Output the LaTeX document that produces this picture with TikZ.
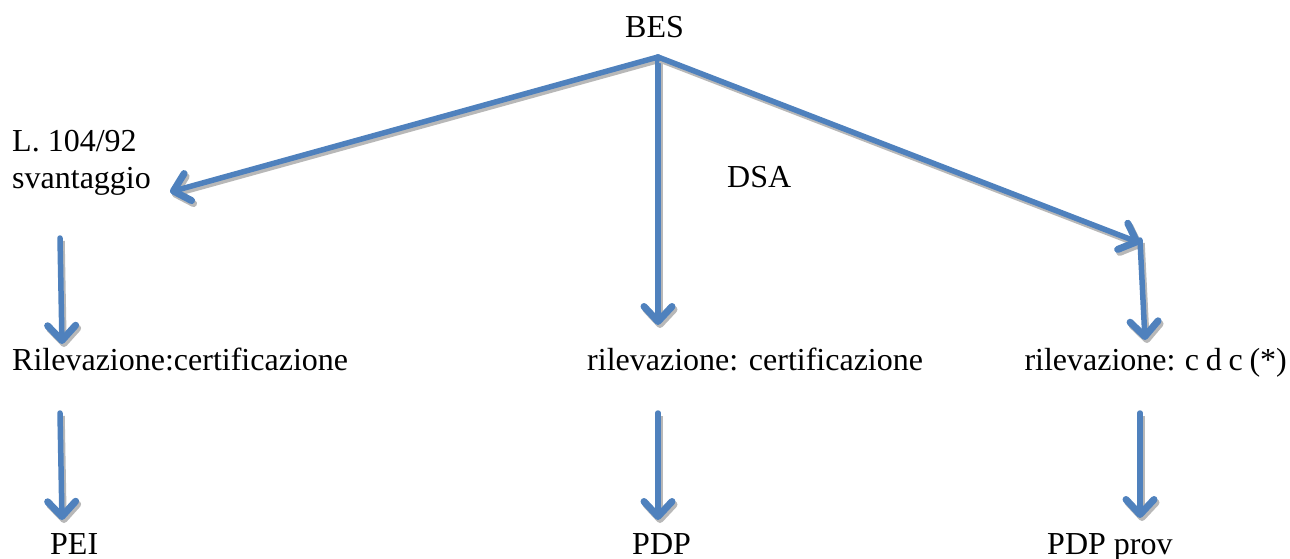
\documentclass[tikz,border=0pt]{standalone}
\usepackage{fontspec}
\setmainfont{Liberation Serif}
\usepackage{xcolor}
\usetikzlibrary{positioning,arrows.meta,calc}
\definecolor{offblue}{HTML}{4F81BD}

\begin{document}
\begin{tikzpicture}[
  x=1pt, y=-1pt,
  font=\fontsize{32}{36}\selectfont,
  lbl/.style={inner sep=0pt, anchor=base west, align=left},
  ar/.style={draw=offblue, line width=5.5pt, line cap=round,
             -{Straight Barb[length=15pt, width=28pt, line width=7pt, round]},
             preaction={draw=black!28, line width=5.5pt,
                        transform canvas={shift={(2,3)}}}},
]
\useasboundingbox (0,0) rectangle (1290,559);

% top
\node[lbl] (bes) at (625,38) {BES};
\coordinate (hub) at (658,57);

% second row
\node[lbl] (leg) at (12,188) {L. 104/92\\svantaggio};
\node[lbl] (dsa) at (727,187) {DSA};
\coordinate (lt) at (170,192);
\coordinate (mt) at (658,325);
\coordinate (rt) at (1140,243);
\draw[ar] (hub) -- (lt);
\draw[ar] (hub) -- (mt);
\draw[ar] (hub) -- (rt);

% rilevazione
\node[lbl] (ril1) at (12,370) {Rilevazione:certificazione};
\node[lbl] (ril2) at (587,370) {rilevazione: certificazione};
\node[lbl, anchor=base east] (ril3) at (1287,370)
  {\spaceskip=0.21em rilevazione: c d c (*)};

% documents
\node[lbl] (pei) at (50,554) {PEI};
\node[lbl] (pdp) at (632,554) {PDP};
\node[lbl] (pdpp) at (1047,554) {PDP prov};

% vertical arrows
\foreach \n/\a/\b/\c/\d in {a/60/238/62/344, b/1140/240/1145/340,
    c/60/413/62/520, d/658/413/658/520, e/1140/413/1140/518} {
  \coordinate (s\n) at (\a,\b);
  \coordinate (e\n) at (\c,\d);
  \draw[ar] (s\n) -- (e\n);
}
\end{tikzpicture}
\end{document}
